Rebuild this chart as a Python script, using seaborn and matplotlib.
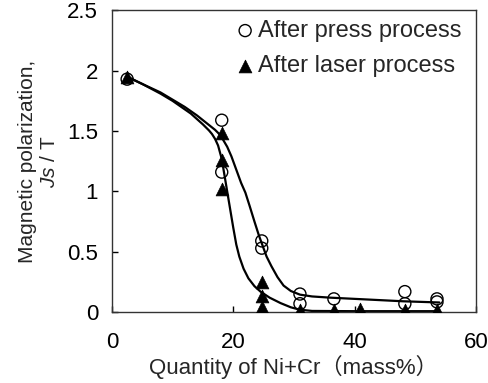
import matplotlib
matplotlib.use('Agg')
import matplotlib.pyplot as plt
import seaborn as sns

# measured points
press_x = [2.5, 18.1, 18.1, 24.7, 24.7, 31, 31, 36.6, 48.3, 48.3, 53.6, 53.6]
press_y = [1.93, 1.59, 1.16, 0.59, 0.53, 0.15, 0.07, 0.11, 0.17, 0.07, 0.11, 0.085]

laser_x = [2.5, 18.1, 18.1, 18.1, 24.7, 24.7, 24.7, 31, 36.6, 40.9, 48.3, 53.6]
laser_y = [1.95, 1.48, 1.26, 1.02, 0.25, 0.13, 0.04, 0.015, 0.015, 0.03, 0.015, 0.015]

# fitted curves
press_curve_x = [2.5, 5, 8, 10, 12, 13, 14, 15, 16, 17, 17.6, 18.3, 19, 19.7, 20.5, 21.3,
                 22, 22.7, 23.5, 24.2, 24.7, 25.5, 26.3, 27.3, 28.3, 29.5, 31, 33, 36,
                 42, 48, 54]
press_curve_y = [1.95, 1.89, 1.82, 1.76, 1.70, 1.665, 1.63, 1.59, 1.55, 1.51, 1.48, 1.43,
                 1.37, 1.29, 1.18, 1.07, 0.99, 0.88, 0.75, 0.64, 0.57, 0.46, 0.38, 0.29,
                 0.22, 0.175, 0.145, 0.13, 0.12, 0.105, 0.09, 0.08]

laser_curve_x = [2.5, 5, 8, 10, 12, 13, 14, 15, 16, 16.5, 17, 17.5, 18.1, 18.5, 19, 19.5,
                 20, 20.5, 21, 21.7, 22.5, 23.5, 24.5, 26, 27.8, 29.5, 31, 33, 40, 54]
laser_curve_y = [1.95, 1.89, 1.81, 1.75, 1.68, 1.645, 1.60, 1.555, 1.505, 1.475, 1.435,
                 1.38, 1.27, 1.15, 1.00, 0.85, 0.70, 0.56, 0.46, 0.36, 0.28, 0.215, 0.17,
                 0.12, 0.075, 0.04, 0.02, 0.01, 0.008, 0.008]

sns.set_style('ticks')
plt.rcParams['font.family'] = ['Liberation Sans', 'Noto Sans CJK JP', 'DejaVu Sans']
plt.rcParams['mathtext.fontset'] = 'custom'
plt.rcParams['mathtext.it'] = 'Liberation Sans:italic'
plt.rcParams['mathtext.rm'] = 'Liberation Sans'

fig = plt.figure(figsize=(4.89, 3.83), dpi=100)
ax = fig.add_axes([0.229, 0.185, 0.744, 0.788])

sns.lineplot(x=press_curve_x, y=press_curve_y, color='black', linewidth=1.6, ax=ax,
             sort=False, estimator=None)
sns.lineplot(x=laser_curve_x, y=laser_curve_y, color='black', linewidth=1.6, ax=ax,
             sort=False, estimator=None)

sns.scatterplot(x=press_x, y=press_y, marker='o', s=75, facecolor='none',
                edgecolor='black', linewidth=1.0, ax=ax, label='After press process',
                zorder=3)
sns.scatterplot(x=laser_x, y=laser_y, marker='^', s=85, color='black',
                edgecolor='black', linewidth=0.5, ax=ax, label='After laser process',
                zorder=4)

ax.set_xlim(0, 60)
ax.set_ylim(0, 2.5)
ax.set_xticks([0, 20, 40, 60])
ax.set_yticks([0, 0.5, 1, 1.5, 2, 2.5])
ax.set_yticklabels(['0', '0.5', '1', '1.5', '2', '2.5'])
ax.tick_params(direction='in', length=4, width=1, labelsize=16, colors='black')
ax.tick_params(axis='x', pad=14)
ax.tick_params(axis='y', pad=10)
for sp in ax.spines.values():
    sp.set_visible(True)
    sp.set_color('#333333')
    sp.set_linewidth(1.0)

ax.set_xlabel('Quantity of Ni+Cr（mass%）', fontsize=16, labelpad=2)
ax.set_ylabel('Magnetic polarization,\n$Js$ / T', fontsize=15, labelpad=6,
              linespacing=1.2)

ax.legend(loc='upper right', bbox_to_anchor=(0.987, 1.0), frameon=False, fontsize=17,
          handletextpad=0.15, handlelength=0.8, labelspacing=0.55, borderaxespad=0)

fig.savefig('out.png', dpi=100)
